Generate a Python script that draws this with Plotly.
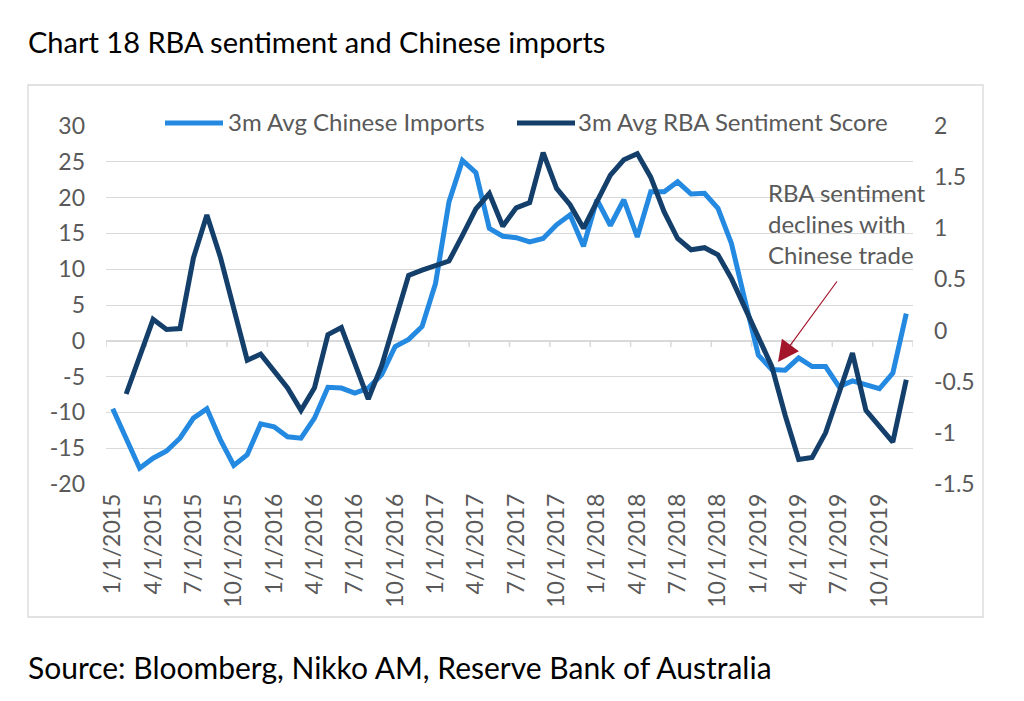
import pandas as pd
import plotly.graph_objects as go

# monthly categories, Excel style labels
months = [f"{d.month}/1/{d.year}" for d in pd.date_range("2015-01-01", "2019-12-01", freq="MS")]

# 3m avg Chinese imports (% y/y, left axis)
cn_imports = [
    -9.5, -13.8, -17.8, -16.4, -15.4, -13.6, -10.8, -9.5, -13.8, -17.4,
    -15.9, -11.6, -12.0, -13.4, -13.6, -10.8, -6.5, -6.6, -7.3, -6.6,
    -4.7, -0.8, 0.2, 2.0, 8.0, 19.4, 25.2, 23.5, 15.7, 14.6,
    14.4, 13.8, 14.3, 16.2, 17.6, 13.2, 19.7, 16.1, 19.7, 14.5,
    20.8, 20.8, 22.2, 20.5, 20.6, 18.5, 13.6, 5.7, -2.0, -4.0,
    -4.1, -2.4, -3.6, -3.6, -6.4, -5.6, -6.1, -6.7, -4.5, 3.8,
]

# 3m avg RBA sentiment score (right axis), starts one month later
rba_sentiment = [
    None, -0.62, -0.25, 0.11, 0.01, 0.02, 0.71, 1.13, 0.72, 0.23,
    -0.29, -0.23, -0.39, -0.56, -0.78, -0.56, -0.04, 0.03, -0.32, -0.67,
    -0.34, 0.10, 0.54, 0.59, 0.63, 0.68, 0.93, 1.19, 1.34, 1.02,
    1.20, 1.25, 1.74, 1.39, 1.23, 1.00, 1.26, 1.52, 1.67, 1.73,
    1.50, 1.16, 0.90, 0.79, 0.81, 0.74, 0.51, 0.23, -0.06, -0.35,
    -0.83, -1.26, -1.24, -1.00, -0.61, -0.22, -0.78, -0.94, -1.09, -0.48,
]

left_ticks = [30, 25, 20, 15, 10, 5, 0, -5, -10, -15, -20]
left_labels = ["30", "25", "20", "15", "10", "5", "0", "-5", "-10", "-15", "-20"]
right_ticks = [2, 1.5, 1, 0.5, 0, -0.5, -1, -1.5]
right_labels = ["2", "1.5", "1", "0.5", "0", "-0.5", "-1", "-1.5"]

LIGHT = "#2489e0"
DARK = "#133f6a"
GRID = "#d9d9d9"
TXT = "#595959"
FONT = "Lato"

fig = go.Figure()
fig.add_trace(go.Scatter(x=months, y=cn_imports, mode="lines", name="3m Avg Chinese Imports",
                         line=dict(color=LIGHT, width=5), showlegend=False))
fig.add_trace(go.Scatter(x=months, y=rba_sentiment, mode="lines", name="3m Avg RBA Sentiment Score",
                         line=dict(color=DARK, width=5), yaxis="y2", showlegend=False))

# the page adds an 8px body margin, so the figure is drawn 8px smaller
OFF = 8
W, H = 1024 - 2 * OFF, 701 - 2 * OFF
L, R, T, B = 106 - OFF, 111 - OFF, 126 - OFF, 217 - OFF
pw, ph = W - L - R, H - T - B


def px(x):
    # x in page pixels -> paper fraction
    return (x - OFF - L) / pw


def py(y):
    return (H - B - (y - OFF)) / ph


shapes = []
# tick marks on the zero line, at category boundaries every 3 months
for k in range(0, len(months) + 1, 3):
    shapes.append(dict(type="line", xref="x", yref="y", x0=k - 0.5, x1=k - 0.5,
                       y0=0, y1=-0.85, line=dict(color=GRID, width=1.5), layer="between"))
# chart frame
shapes.append(dict(type="rect", xref="paper", yref="paper", x0=px(28), x1=px(983),
                   y0=py(617), y1=py(85), line=dict(color=GRID, width=1.3)))
# legend swatches
shapes.append(dict(type="line", xref="paper", yref="paper", x0=px(165), x1=px(223),
                   y0=py(123), y1=py(123), line=dict(color=LIGHT, width=5)))
shapes.append(dict(type="line", xref="paper", yref="paper", x0=px(517), x1=px(575),
                   y0=py(123), y1=py(123), line=dict(color=DARK, width=5)))

annotations = [
    dict(text="Chart 18 RBA sentiment and Chinese imports", xref="paper", yref="paper",
         x=px(26), y=py(42), xanchor="left", yanchor="middle", showarrow=False,
         font=dict(family=FONT, size=29, color="#000000")),
    dict(text="Source: Bloomberg, Nikko AM, Reserve Bank of Australia", xref="paper", yref="paper",
         x=px(26), y=py(667), xanchor="left", yanchor="middle", showarrow=False,
         font=dict(family=FONT, size=30, color="#000000")),
    dict(text="3m Avg Chinese Imports", xref="paper", yref="paper",
         x=px(226), y=py(122), xanchor="left", yanchor="middle", showarrow=False,
         font=dict(family=FONT, size=24, color=TXT)),
    dict(text="3m Avg RBA Sentiment Score", xref="paper", yref="paper",
         x=px(576), y=py(122), xanchor="left", yanchor="middle", showarrow=False,
         font=dict(family=FONT, size=24, color=TXT)),
    dict(text="RBA sentiment<br>declines with<br>Chinese trade", xref="paper", yref="paper",
         x=px(766), y=py(223), xanchor="left", yanchor="middle", align="left", showarrow=False,
         font=dict(family=FONT, size=24, color=TXT)),
    dict(text="", xref="paper", yref="paper", x=px(778), y=py(362),
         showarrow=True, ax=60, ay=-82, arrowhead=2, arrowsize=3.5, arrowwidth=1.2,
         arrowcolor="#a3152b"),
]

fig.update_layout(
    width=W, height=H,
    margin=dict(l=L, r=R, t=T, b=B),
    paper_bgcolor="white", plot_bgcolor="white",
    font=dict(family=FONT, size=23, color=TXT),
    showlegend=False,
    xaxis=dict(type="category", range=[-0.5, len(months) - 0.5],
               tickmode="array", tickvals=months[::3], tickangle=-90,
               showgrid=False, zeroline=False, showline=False, ticks="",
               ticklabelstandoff=4, tickfont=dict(family=FONT, size=23, color=TXT)),
    yaxis=dict(range=[-20, 30], tickmode="array", tickvals=left_ticks, ticktext=left_labels,
               showgrid=True, gridcolor=GRID, gridwidth=1.3,
               zeroline=True, zerolinecolor=GRID, zerolinewidth=1.5,
               showline=False, ticks="", ticklabelstandoff=20,
               tickfont=dict(family=FONT, size=23, color=TXT)),
    yaxis2=dict(range=[-1.5, 2], overlaying="y", side="right", tickmode="array",
                tickvals=right_ticks, ticktext=right_labels, showgrid=False, zeroline=False,
                showline=False, ticks="", ticklabelstandoff=20,
                tickfont=dict(family=FONT, size=23, color=TXT)),
    shapes=shapes,
    annotations=annotations,
)

fig.write_html("out.html")
